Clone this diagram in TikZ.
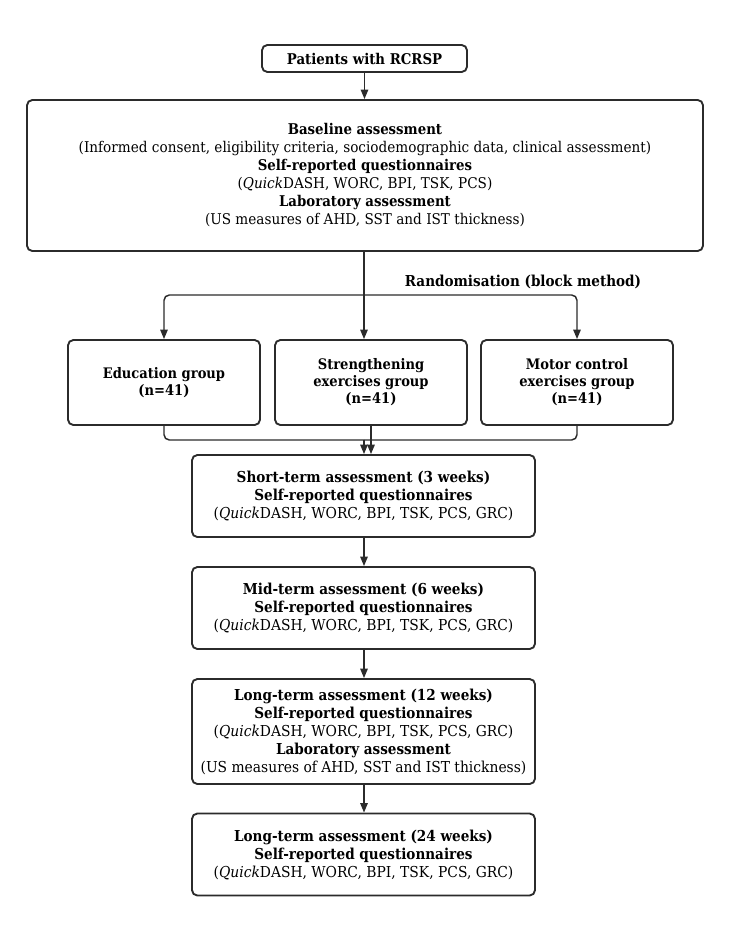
\documentclass[tikz,border=0pt]{standalone}
\usepackage{fontspec}
\setmainfont{DejaVu Serif}
\newfontfamily\condfont{DejaVu Serif}[FakeStretch=0.92]
\newfontfamily\boldcond{DejaVu Serif Bold}[FakeStretch=0.9]
\newcommand{\hd}[1]{{\boldcond #1}}
\usetikzlibrary{arrows.meta}
\definecolor{ln}{HTML}{2B2B2B}
\tikzset{
  box/.style={draw=ln, line width=1.4pt, rounded corners=4pt, inner sep=0pt, align=center, text=black},
  conn/.style={draw=ln, line width=1.1pt},
  arr/.style={conn, -{Triangle[length=7pt,width=5.5pt]}},
  lowfont/.style={font=\condfont\fontsize{11.3}{13.5}\selectfont},
  basefont/.style={font=\condfont\fontsize{11.1}{13.5}\selectfont},
  grpfont/.style={font=\boldcond\fontsize{10.9}{12.75}\selectfont},
}
\begin{document}
\begin{tikzpicture}[x=0.75pt, y=-0.75pt]
\useasboundingbox (0,0) rectangle (728,942);
% top box
\node[box, minimum width=153.75pt, minimum height=20.25pt, font=\boldcond\fontsize{11.1}{13}\selectfont] (pat) at (364.5,58.5) {Patients with RCRSP};
\node[box, basefont, minimum width=507pt, minimum height=113.25pt] (base) at (365,175.5)
 {\hd{Baseline assessment}\\
  (Informed consent, eligibility criteria, sociodemographic data, clinical assessment)\\
  \hd{Self-reported questionnaires}\\
  (\textit{Quick}DASH, WORC, BPI, TSK, PCS)\\
  \hd{Laboratory assessment}\\
  (US measures of AHD, SST and IST thickness)};
% groups
\node[box, grpfont, minimum width=144pt, minimum height=63.75pt] (edu) at (164,382.5) {Education group\\(n=41)};
\node[box, grpfont, minimum width=144pt, minimum height=63.75pt] (str) at (371,382.5) {Strengthening\\exercises group\\(n=41)};
\node[box, grpfont, minimum width=144pt, minimum height=63.75pt] (mot) at (577,382.5) {Motor control\\exercises group\\(n=41)};
\node[font=\boldcond\fontsize{11.3}{13}\selectfont] (rand) at (523,282) {Randomisation (block method)};
% lower boxes
\node[box, lowfont, minimum width=257.25pt, minimum height=61.5pt] (st) at (363.5,496)
 {\hd{Short-term assessment (3 weeks)}\\
  \hd{Self-reported questionnaires}\\
  (\textit{Quick}DASH, WORC, BPI, TSK, PCS, GRC)};
\node[box, lowfont, minimum width=257.25pt, minimum height=61.5pt] (mt) at (363.5,608)
 {\hd{Mid-term assessment (6 weeks)}\\
  \hd{Self-reported questionnaires}\\
  (\textit{Quick}DASH, WORC, BPI, TSK, PCS, GRC)};
\node[box, lowfont, minimum width=257.25pt, minimum height=78.75pt] (lt) at (363.5,731.5)
 {\hd{Long-term assessment (12 weeks)}\\
  \hd{Self-reported questionnaires}\\
  (\textit{Quick}DASH, WORC, BPI, TSK, PCS, GRC)\\
  \hd{Laboratory assessment}\\
  (US measures of AHD, SST and IST thickness)};
\node[box, lowfont, minimum width=257.25pt, minimum height=61.5pt] (lv) at (363.5,854.5)
 {\hd{Long-term assessment (24 weeks)}\\
  \hd{Self-reported questionnaires}\\
  (\textit{Quick}DASH, WORC, BPI, TSK, PCS, GRC)};
% connectors
\coordinate (j) at (364,295);
\coordinate (m) at (364,440);
\draw[arr] (pat.south) -- (pat.south |- base.north);
\draw[conn] (j |- base.south) -- (j);
\draw[arr, rounded corners=4pt] (j) -| (edu.north);
\draw[arr, rounded corners=4pt] (j) -| (mot.north);
\draw[arr] (j) -- (j |- str.north);
\draw[conn, rounded corners=4pt] (edu.south) |- (m);
\draw[conn, rounded corners=4pt] (mot.south) |- (m);
\draw[arr] (m) -- (m |- st.north);
\draw[arr] (str.south) -- (str.south |- st.north);
\draw[arr] (st.south -| m) -- (m |- mt.north);
\draw[arr] (mt.south -| m) -- (m |- lt.north);
\draw[arr] (lt.south -| m) -- (m |- lv.north);
\end{tikzpicture}
\end{document}
